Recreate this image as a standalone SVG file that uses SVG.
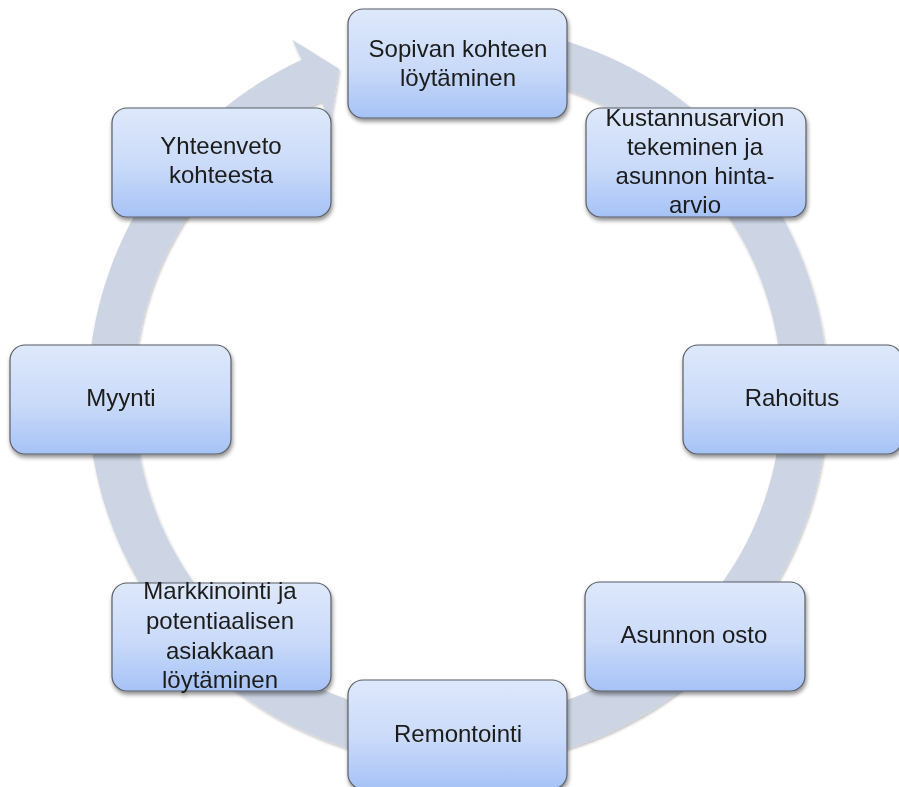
<svg xmlns="http://www.w3.org/2000/svg" width="899" height="787" viewBox="0 0 899 787">
  <defs>
    <linearGradient id="boxGrad" x1="0" y1="0" x2="0" y2="1">
      <stop offset="0" stop-color="#DEE8FB"/>
      <stop offset="0.55" stop-color="#C9DAF9"/>
      <stop offset="1" stop-color="#A6C2F6"/>
    </linearGradient>
    <filter id="shadow" x="-10%" y="-10%" width="125%" height="130%">
      <feGaussianBlur in="SourceAlpha" stdDeviation="2.2"/>
      <feOffset dx="1" dy="3" result="b"/>
      <feComponentTransfer><feFuncA type="linear" slope="0.45"/></feComponentTransfer>
      <feMerge><feMergeNode/><feMergeNode in="SourceGraphic"/></feMerge>
    </filter>
    <filter id="ringShadow" x="-5%" y="-5%" width="110%" height="110%">
      <feGaussianBlur in="SourceAlpha" stdDeviation="1.5"/>
      <feOffset dx="1" dy="1.5"/>
      <feComponentTransfer><feFuncA type="linear" slope="0.25"/></feComponentTransfer>
      <feMerge><feMergeNode/><feMergeNode in="SourceGraphic"/></feMerge>
    </filter>
  </defs>
  <style>
    .box { fill: url(#boxGrad); stroke: #5A5F66; stroke-width: 1.2; }
    .lbl { font-family: "Liberation Sans", Arial, sans-serif; font-size: 24px; fill: #1A1A1A; text-anchor: middle; }
    .ring { fill: #CDD5E4; }
  </style>
  <rect width="899" height="787" fill="#FFFFFF"/>

  <g id="connectors">
    <path class="ring" filter="url(#ringShadow)" d="M 393.75 30.62 A 370 370 0 1 1 301.63 59.67 L 292.33 39.73 L 339.3 68.9 L 330.4 121.3 L 321.07 101.36 A 324 324 0 1 0 401.74 75.92 Z"/>
  </g>

  <g id="node-sopivan" filter="url(#shadow)">
    <rect class="box" x="348" y="9" width="219" height="109" rx="15"/>
    <text class="lbl" x="458" y="57">Sopivan kohteen</text>
    <text class="lbl" x="458" y="86">löytäminen</text>
  </g>

  <g id="node-kustannus" filter="url(#shadow)">
    <rect class="box" x="586" y="108" width="220" height="109" rx="15"/>
    <text class="lbl" x="695" y="126">Kustannusarvion</text>
    <text class="lbl" x="695" y="155">tekeminen ja</text>
    <text class="lbl" x="695" y="184">asunnon hinta-</text>
    <text class="lbl" x="695" y="213">arvio</text>
  </g>

  <g id="node-rahoitus" filter="url(#shadow)">
    <rect class="box" x="683" y="345" width="219" height="109" rx="15"/>
    <text class="lbl" x="792" y="406">Rahoitus</text>
  </g>

  <g id="node-asunnon-osto" filter="url(#shadow)">
    <rect class="box" x="585" y="582" width="220" height="109" rx="15"/>
    <text class="lbl" x="694" y="643">Asunnon osto</text>
  </g>

  <g id="node-remontointi" filter="url(#shadow)">
    <rect class="box" x="348" y="680" width="219" height="109" rx="15"/>
    <text class="lbl" x="458" y="742">Remontointi</text>
  </g>

  <g id="node-markkinointi" filter="url(#shadow)">
    <rect class="box" x="112" y="583" width="219" height="108" rx="15"/>
    <text class="lbl" x="220" y="599">Markkinointi ja</text>
    <text class="lbl" x="220" y="629">potentiaalisen</text>
    <text class="lbl" x="220" y="659">asiakkaan</text>
    <text class="lbl" x="220" y="688">löytäminen</text>
  </g>

  <g id="node-myynti" filter="url(#shadow)">
    <rect class="box" x="10" y="345" width="221" height="109" rx="15"/>
    <text class="lbl" x="121" y="406">Myynti</text>
  </g>

  <g id="node-yhteenveto" filter="url(#shadow)">
    <rect class="box" x="112" y="108" width="219" height="109" rx="15"/>
    <text class="lbl" x="221" y="154">Yhteenveto</text>
    <text class="lbl" x="221" y="183">kohteesta</text>
  </g>
</svg>
